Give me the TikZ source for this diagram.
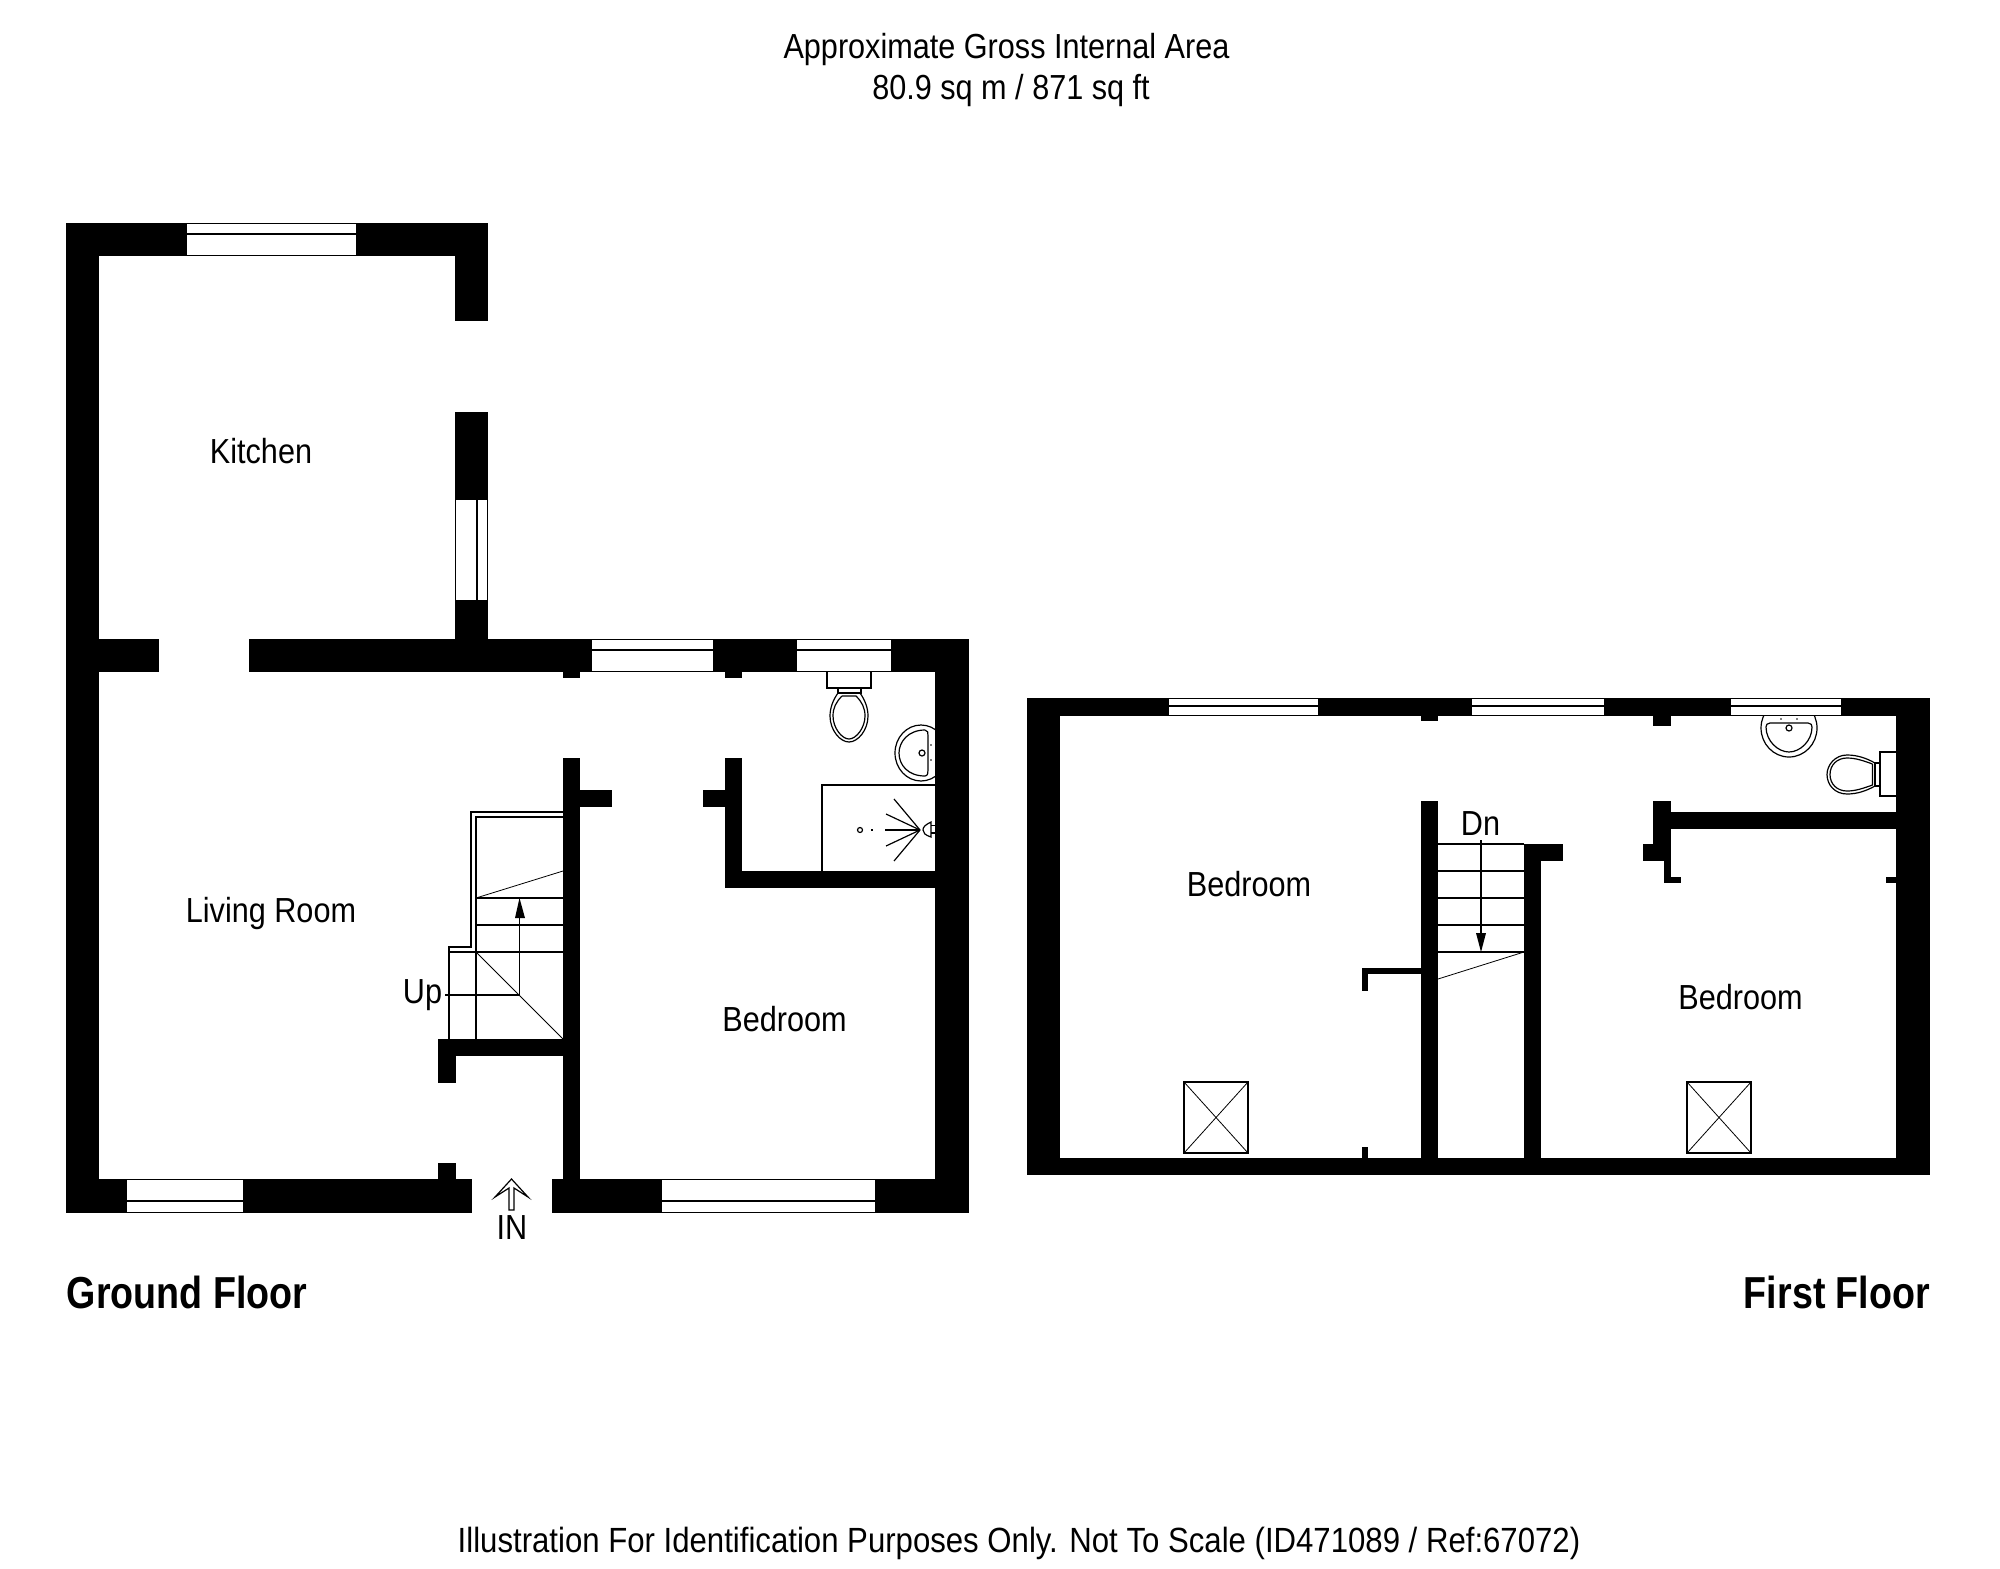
\documentclass[tikz,border=0pt]{standalone}
\usepackage{fontspec}
\setmainfont[FakeStretch=0.88]{Liberation Sans}
\newfontfamily\headfont[FakeStretch=0.84]{Liberation Sans Bold}
\newfontfamily\footfont[FakeStretch=0.89]{Liberation Sans}
\tikzset{
  x=0.5pt,y=-0.5pt,
  wall/.style={fill=black,draw=none},
  win/.style={fill=white,draw=black,line width=0.6pt},
  thin line/.style={draw=black,line width=0.6pt},
  hair/.style={draw=black,line width=0.4pt},
  label/.style={inner sep=0pt,anchor=base,font=\fontsize{17.4pt}{20pt}\selectfont},
  footlabel/.style={inner sep=0pt,anchor=base,font=\fontsize{17.5pt}{20pt}\footfont},
  head/.style={inner sep=0pt,anchor=base,font=\fontsize{22.4pt}{26pt}\headfont},
}
\begin{document}
\begin{tikzpicture}
\useasboundingbox (0,0) rectangle (2000,1568);
% ---------- Ground floor walls
\fill[wall] (66,223) rectangle (488,256);
\fill[wall] (66,223) rectangle (99,1213);
\fill[wall] (455,223) rectangle (488,321);
\fill[wall] (455,412) rectangle (488,672);
\fill[wall] (66,639) rectangle (159,672);
\fill[wall] (249,639) rectangle (969,672);
\fill[wall] (935,639) rectangle (969,1213);
\fill[wall] (66,1179) rectangle (472,1213);
\fill[wall] (552,1179) rectangle (969,1213);
\fill[wall] (563,672) rectangle (580,678);
\fill[wall] (725,672) rectangle (742,678);
\fill[wall] (563,758) rectangle (580,1179);
\fill[wall] (580,790) rectangle (612,807);
\fill[wall] (725,758) rectangle (742,888);
\fill[wall] (703,790) rectangle (725,807);
\fill[wall] (725,871) rectangle (935,888);
\fill[wall] (438,1039) rectangle (563,1056);
\fill[wall] (438,1056) rectangle (456,1083);
\fill[wall] (438,1163) rectangle (456,1179);
% ---------- Ground floor windows
\path[win] (186,223.5) rectangle (357,255.5);
\draw[thin line] (186,234) -- (357,234);
\path[win] (455.5,499) rectangle (487.5,601);
\draw[thin line] (477,499) -- (477,601);
\path[win] (591,639.5) rectangle (714,671.5);
\draw[thin line] (591,650) -- (714,650);
\path[win] (796,639.5) rectangle (892,671.5);
\draw[thin line] (796,650) -- (892,650);
\path[win] (126,1179.5) rectangle (244,1212.5);
\draw[thin line] (126,1201) -- (244,1201);
\path[win] (661,1179.5) rectangle (876,1212.5);
\draw[thin line] (661,1201) -- (876,1201);
% ---------- Ground floor stairs
\draw[thin line] (563,812) -- (471,812) -- (471,947) -- (449,947) -- (449,1039);
\draw[thin line] (563,817) -- (476,817) -- (476,1039);
\draw[thin line] (476,898) -- (563,898);
\draw[thin line] (476,925) -- (563,925);
\draw[thin line] (449,952) -- (563,952);
\draw[hair] (476,898) -- (563,871);
\draw[hair] (476,952) -- (563,1039);
\draw[thin line] (445,995) -- (519.5,995) -- (519.5,915);
\fill[black] (519.5,898) -- (525,918) -- (515,918) -- cycle;
% ---------- Ground floor toilet
\draw[thin line] (827,672) -- (827,688) -- (871,688) -- (871,672);
\draw[thin line] (838,688) -- (838,693) -- (861,693) -- (861,688);
\draw[thin line] (838,693) .. controls (833,700) and (830,708) .. (830,716)
  .. controls (830,730) and (840,742) .. (849,742)
  .. controls (858,742) and (868,730) .. (868,716)
  .. controls (868,708) and (865,700) .. (860,693);
\draw[thin line] (842,696) -- (856,696) .. controls (862,702) and (865,708) .. (865,716)
  .. controls (865,728) and (856,739) .. (849,739)
  .. controls (842,739) and (833,728) .. (833,716)
  .. controls (833,708) and (836,702) .. (842,696);
% ---------- Ground floor basin
\begin{scope}
\clip (880,710) rectangle (935,790);
\draw[thin line] (921,753) ellipse [x radius=26,y radius=28];
\end{scope}
\draw[thin line] (925,730) .. controls (908,730) and (899,742) .. (899,753)
  .. controls (899,765) and (908,776) .. (925,776)
  .. controls (928,776) and (928,772) .. (928,770) -- (928,736)
  .. controls (928,733) and (928,730) .. (925,730);
\draw[thin line] (922,753) circle [radius=3];
\fill[black] (931,745) circle [radius=0.9];
\fill[black] (931,760) circle [radius=0.9];
% ---------- Ground floor shower
\draw[thin line] (935,785) -- (822,785) -- (822,871);
\draw[thin line] (920,830) -- (894,799);
\draw[thin line] (920,830) -- (886,814);
\draw[thin line] (920,830) -- (885,830);
\draw[thin line] (920,830) -- (886,846);
\draw[thin line] (920,830) -- (894,861);
\draw[thin line] (931,822) .. controls (925,825) and (923,827) .. (923,830)
  .. controls (923,833) and (925,835) .. (931,837) -- cycle;
\draw[thin line] (931,825.5) -- (935,825.5);
\draw[thin line] (931,833) -- (935,833);
\draw[thin line] (860,830) circle [radius=2.5];
\draw[thin line] (871,830) -- (873,830);
% ---------- Entrance arrow
\draw[thin line] (511.5,1179) -- (528,1197) -- (514,1188) -- (514,1210) -- (509,1210)
  -- (509,1188) -- (495,1197) -- cycle;
% ---------- First floor walls
\fill[wall] (1027,698) rectangle (1930,716);
\fill[wall] (1027,698) rectangle (1060,1175);
\fill[wall] (1896,698) rectangle (1930,1175);
\fill[wall] (1027,1158) rectangle (1930,1175);
\fill[wall] (1421,716) rectangle (1438,721);
\fill[wall] (1653,716) rectangle (1671,726);
\fill[wall] (1421,801) rectangle (1438,1158);
\fill[wall] (1524,844) rectangle (1541,1158);
\fill[wall] (1524,844) rectangle (1563,861);
\fill[wall] (1362,968) rectangle (1421,974);
\fill[wall] (1362,968) rectangle (1368,991);
\fill[wall] (1362,1147) rectangle (1368,1158);
\fill[wall] (1653,801) rectangle (1671,861);
\fill[wall] (1643,844) rectangle (1653,861);
\fill[wall] (1664,861) rectangle (1671,883);
\fill[wall] (1664,877) rectangle (1681,883);
\fill[wall] (1671,812) rectangle (1896,829);
\fill[wall] (1886,877) rectangle (1896,883);
% ---------- First floor windows
\path[win] (1168,698.5) rectangle (1319,715.5);
\draw[thin line] (1168,706) -- (1319,706);
\path[win] (1471,698.5) rectangle (1605,715.5);
\draw[thin line] (1471,706) -- (1605,706);
\path[win] (1730,698.5) rectangle (1842,715.5);
\draw[thin line] (1730,706) -- (1842,706);
% ---------- First floor stairs
\draw[thin line] (1438,844) -- (1524,844);
\draw[thin line] (1438,871) -- (1524,871);
\draw[thin line] (1438,898) -- (1524,898);
\draw[thin line] (1438,925) -- (1524,925);
\draw[thin line] (1438,952) -- (1524,952);
\draw[hair] (1524,952) -- (1438,979);
\draw[thin line] (1481,840) -- (1481,935);
\fill[black] (1481,952) -- (1486,933) -- (1476,933) -- cycle;
% ---------- First floor basin
\begin{scope}
\clip (1750,716) rectangle (1830,770);
\draw[thin line] (1789,728) ellipse [x radius=28,y radius=29];
\end{scope}
\draw[thin line] (1770,723) -- (1808,723) .. controls (1811,723) and (1812,725) .. (1812,727)
  .. controls (1812,741) and (1800,752) .. (1789,752)
  .. controls (1778,752) and (1766,741) .. (1766,727)
  .. controls (1766,725) and (1767,723) .. (1770,723);
\draw[thin line] (1789,728) circle [radius=3];
\fill[black] (1781,719) circle [radius=0.9];
\fill[black] (1797,719) circle [radius=0.9];
% ---------- First floor toilet
\draw[thin line] (1896,752) -- (1880,752) -- (1880,796) -- (1896,796);
\draw[thin line] (1880,763) -- (1875,763) -- (1875,786) -- (1880,786);
\draw[thin line] (1875,763) .. controls (1866,758) and (1857,755) .. (1847,755)
  .. controls (1835,755) and (1827,765) .. (1827,774.5)
  .. controls (1827,785) and (1835,794) .. (1847,794)
  .. controls (1857,794) and (1866,791) .. (1875,786);
\draw[thin line] (1872.5,764) -- (1872.5,785) .. controls (1864,788) and (1856,791) .. (1847,791)
  .. controls (1837,791) and (1830,784) .. (1830,774.5)
  .. controls (1830,765) and (1837,758) .. (1847,758)
  .. controls (1856,758) and (1864,761) .. (1872.5,764);
% ---------- Skylights
\draw[thin line] (1184,1082) rectangle (1248,1153);
\draw[hair] (1184,1082) -- (1248,1153);
\draw[hair] (1248,1082) -- (1184,1153);
\draw[thin line] (1687,1082) rectangle (1751,1153);
\draw[hair] (1687,1082) -- (1751,1153);
\draw[hair] (1751,1082) -- (1687,1153);
% ---------- Text
\node[label] (title1) at (1006.5,58.5) {Approximate Gross Internal Area};
\node[label] (title2) at (1011,99.5) {80.9 sq m / 871 sq ft};
\node[label] (kitchen) at (261,463) {Kitchen};
\node[label] (living) at (271,922.5) {Living Room};
\node[label] (bedg) at (784.5,1031) {Bedroom};
\node[label] (up) at (422.5,1003) {Up};
\node[label] (in) at (512,1239) {IN};
\node[label] (dn) at (1480.5,835) {Dn};
\node[label] (bed1) at (1249,896) {Bedroom};
\node[label] (bed2) at (1740.5,1009) {Bedroom};
\node[head] (gf) at (187,1308) {Ground Floor};
\node[head] (ff) at (1837,1308) {First Floor};
\node[footlabel] (foot) at (1019,1552) {Illustration For Identification Purposes Only. Not To Scale (ID471089 / Ref:67072)};
\end{tikzpicture}
\end{document}
